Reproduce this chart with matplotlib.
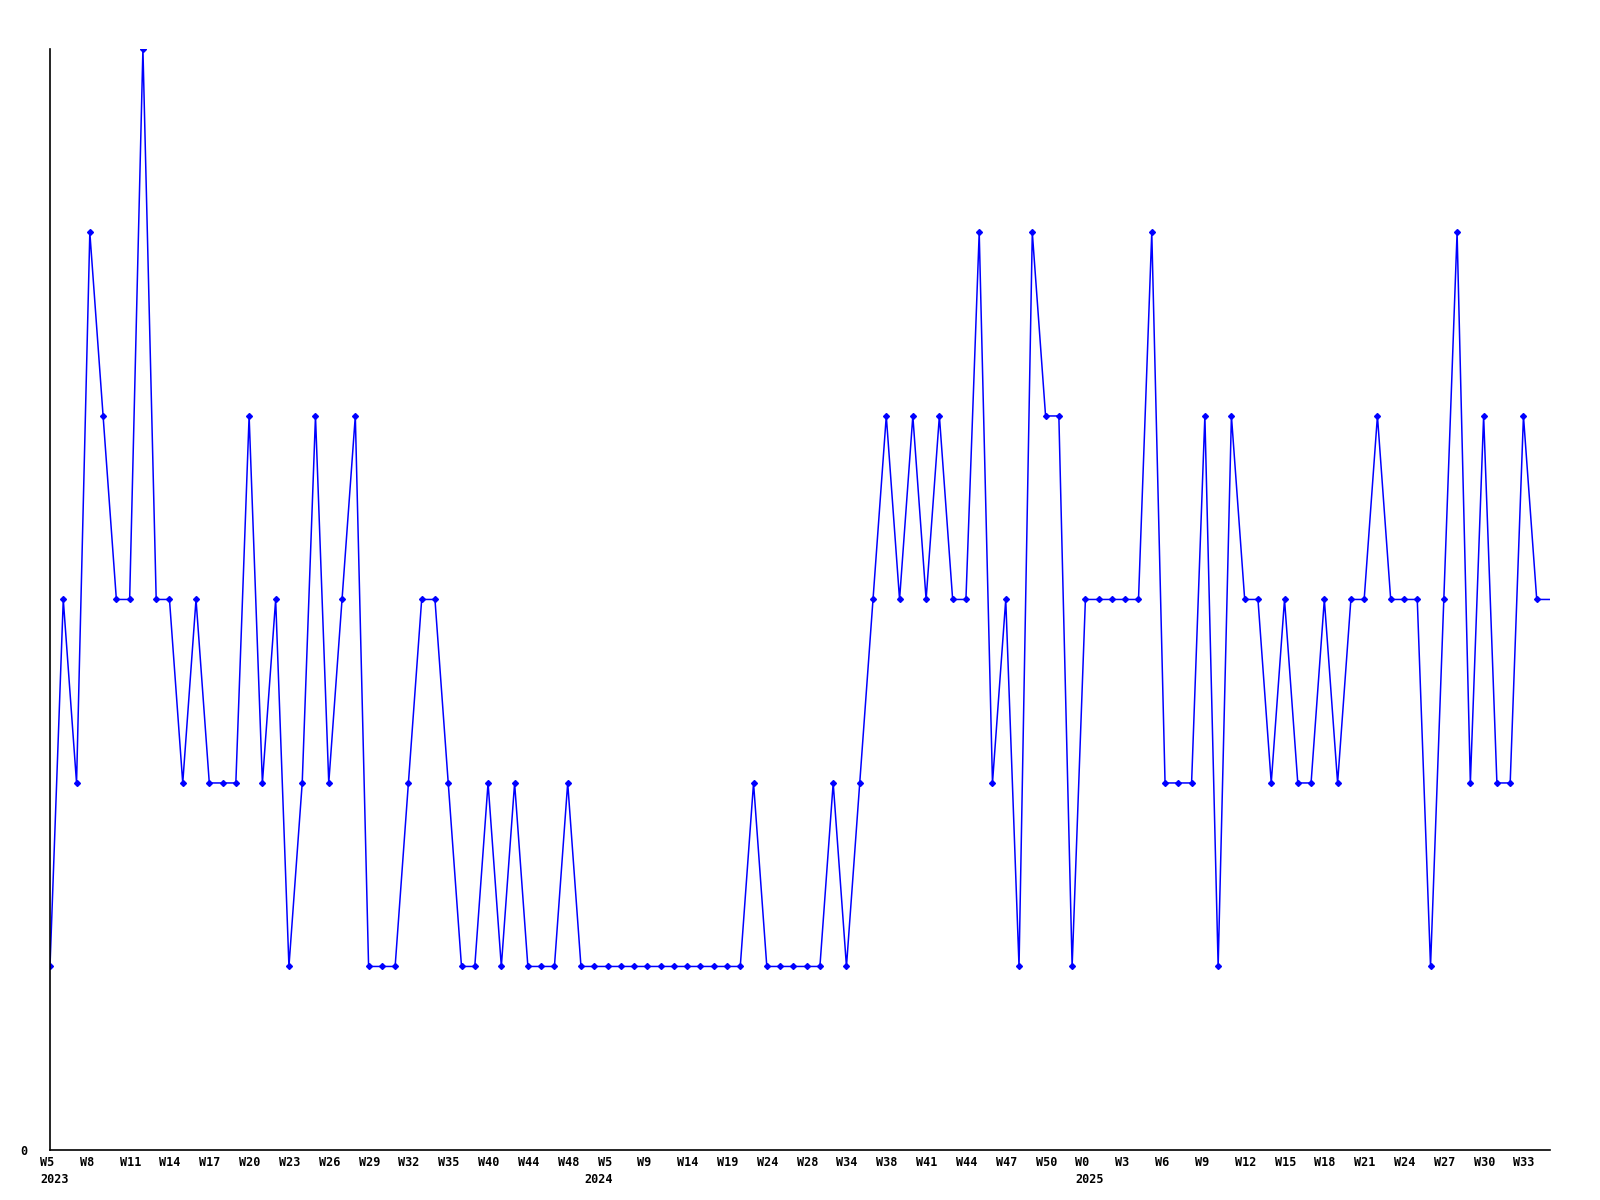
import numpy as np
import matplotlib
matplotlib.use("Agg")
import matplotlib.pyplot as plt
import matplotlib.transforms as mtransforms

# weekly values, one per point (last point sits on the right edge, no marker)
values = [
    1, 3, 2, 5, 4, 3, 3, 6, 3, 3, 2, 3, 2, 2, 2, 4, 2, 3, 1, 2,
    4, 2, 3, 4, 1, 1, 1, 2, 3, 3, 2, 1, 1, 2, 1, 2, 1, 1, 1, 2,
    1, 1, 1, 1, 1, 1, 1, 1, 1, 1, 1, 1, 1, 2, 1, 1, 1, 1, 1, 2,
    1, 2, 3, 4, 3, 4, 3, 4, 3, 3, 5, 2, 3, 1, 5, 4, 4, 1, 3, 3,
    3, 3, 3, 5, 2, 2, 2, 4, 1, 4, 3, 3, 2, 3, 2, 2, 3, 2, 3, 3,
    4, 3, 3, 3, 1, 3, 5, 2, 4, 2, 2, 4, 3, 3,
]

# one label every third point
week_labels = [
    "W5\n2023", "W8", "W11", "W14", "W17", "W20", "W23", "W26", "W29", "W32",
    "W35", "W40", "W44", "W48", "W5\n2024", "W9", "W14", "W19", "W24", "W28",
    "W34", "W38", "W41", "W44", "W47", "W50", "W0\n2025", "W3", "W6", "W9",
    "W12", "W15", "W18", "W21", "W24", "W27", "W30", "W33",
]
label_step = 3

x = np.arange(len(values))

fig = plt.figure(figsize=(16, 12), dpi=100)
ax = fig.add_axes([0.03125, 0.0417, 0.9375, 0.9175])

ax.plot(x, values, color="#0000ff", linewidth=1.1,
        marker="D", markersize=3, markevery=list(range(len(values) - 1)))

ax.set_xlim(0, len(values) - 1)
ax.set_ylim(0, max(values))

for side in ["top", "right"]:
    ax.spines[side].set_visible(False)
for side in ["left", "bottom"]:
    ax.spines[side].set_color("black")
    ax.spines[side].set_linewidth(1.2)

tick_pos = np.arange(len(week_labels)) * label_step
ax.set_xticks(tick_pos)
ax.set_xticklabels(week_labels, family="DejaVu Sans Mono", fontweight="bold",
                   fontsize=8.5, ha="left", va="top", linespacing=1.4)
ax.tick_params(axis="x", length=0, pad=4)

# labels start just left of their point; the 2024 one is right aligned
left_shift = mtransforms.ScaledTranslation(-10 / 100, 0, fig.dpi_scale_trans)
right_shift = mtransforms.ScaledTranslation(5 / 100, 0, fig.dpi_scale_trans)
for lbl in ax.get_xticklabels():
    if lbl.get_text() == "W5\n2024":
        lbl.set_ha("right")
        lbl.set_multialignment("right")
        lbl.set_transform(lbl.get_transform() + right_shift)
    else:
        lbl.set_transform(lbl.get_transform() + left_shift)

ax.set_yticks([0])
ax.set_yticklabels(["0"], family="DejaVu Sans Mono", fontweight="bold", fontsize=8.5)
ax.tick_params(axis="y", length=0, pad=16)

fig.savefig("out.png", dpi=100, facecolor="white")
